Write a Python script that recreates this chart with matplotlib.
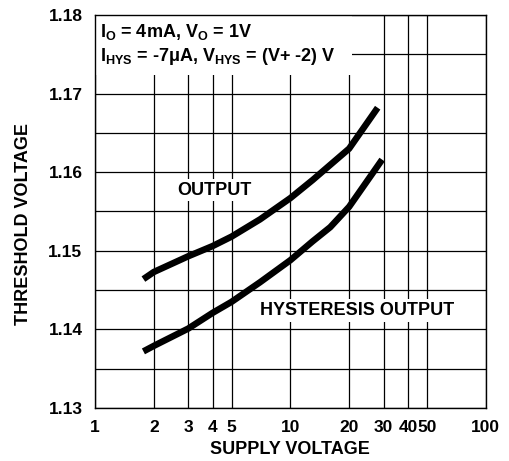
import matplotlib
matplotlib.use("Agg")
import matplotlib.pyplot as plt
from matplotlib.ticker import FixedLocator, FixedFormatter, NullLocator
from matplotlib.patches import Rectangle

plt.rcParams['font.family'] = ['Liberation Sans', 'DejaVu Sans']
plt.rcParams['font.weight'] = 'bold'
plt.rcParams['mathtext.fontset'] = 'custom'
plt.rcParams['mathtext.rm'] = 'Liberation Sans:bold'
plt.rcParams['mathtext.it'] = 'Liberation Sans:bold'
plt.rcParams['mathtext.bf'] = 'Liberation Sans:bold'

# Data
out_x = [1.77, 2, 3, 4, 5, 7, 10, 13, 20, 28]
out_y = [1.1464, 1.1473, 1.1493, 1.1506, 1.1518, 1.1540, 1.1567, 1.1590, 1.1630, 1.1682]
hys_x = [1.77, 2, 3, 4, 5, 7, 10, 13, 16, 20, 29.5]
hys_y = [1.1372, 1.1379, 1.1401, 1.1421, 1.1435, 1.1460, 1.1488, 1.1512, 1.1530, 1.1556, 1.1616]
x_ticks = [1, 2, 3, 4, 5, 10, 20, 30, 40, 50, 100]
x_tick_labels = ['1', '2', '3', '4', '5', '10', '20', '30', '40', '50', '100']
y_ticks = [1.13, 1.14, 1.15, 1.16, 1.17, 1.18]
y_tick_labels = ['1.13', '1.14', '1.15', '1.16', '1.17', '1.18']
y_grid = [1.13, 1.135, 1.14, 1.145, 1.15, 1.155, 1.16, 1.165, 1.17, 1.175, 1.18]

FS = 13

fig = plt.figure(figsize=(5.09, 4.61), dpi=100)
ax = fig.add_axes([0.1866, 0.115, 0.9542 - 0.1866, 0.9675 - 0.115])
ax.set_xscale('log')
ax.set_xlim(1, 100)
ax.set_ylim(1.13, 1.18)

for xv in x_ticks:
    ax.axvline(xv, color='black', lw=0.9, zorder=1)
for yv in y_grid:
    ax.axhline(yv, color='black', lw=0.9, zorder=1)

ax.plot(out_x, out_y, color='black', lw=4.7, solid_capstyle='butt', solid_joinstyle='round', zorder=3)
ax.plot(hys_x, hys_y, color='black', lw=4.7, solid_capstyle='butt', solid_joinstyle='round', zorder=3)

ax.xaxis.set_major_locator(FixedLocator(x_ticks))
ax.xaxis.set_major_formatter(FixedFormatter(x_tick_labels))
ax.xaxis.set_minor_locator(NullLocator())
ax.set_yticks(y_ticks)
ax.set_yticklabels(y_tick_labels)
ax.tick_params(axis='y', length=0, labelsize=FS - 0.5, pad=9)
ax.tick_params(axis='x', length=0, labelsize=FS - 0.5, pad=9)
for lab in ax.get_xticklabels() + ax.get_yticklabels():
    lab.set_fontweight('bold')
for s in ax.spines.values():
    s.set_linewidth(1.0)
    s.set_zorder(4)

ax.set_xlabel('SUPPLY VOLTAGE', fontsize=FS, fontweight='bold', labelpad=4)
ax.set_ylabel('THRESHOLD VOLTAGE', fontsize=FS, fontweight='bold')
ax.yaxis.set_label_coords(-0.162, 0.468)

# white box behind the condition text
ax.add_patch(Rectangle((0.003, 0.847), 0.655, 0.15, transform=ax.transAxes,
                       facecolor='white', edgecolor='none', zorder=2))
ax.text(0.013, 0.957, r'I$_{\mathregular{O}}$ = 4mA, V$_{\mathregular{O}}$ = 1V',
        transform=ax.transAxes, fontsize=FS, fontweight='bold', va='center', ha='left', zorder=5)
ax.text(0.013, 0.894, r'I$_{\mathregular{HYS}}$ = -7μA, V$_{\mathregular{HYS}}$ = (V+ -2) V',
        transform=ax.transAxes, fontsize=FS, fontweight='bold', va='center', ha='left', zorder=5)

ax.text(4.1, 1.1577, 'OUTPUT', fontsize=FS, fontweight='bold', ha='center', va='center',
        zorder=5, bbox=dict(facecolor='white', edgecolor='none', pad=2))
ax.text(22.0, 1.1424, 'HYSTERESIS OUTPUT', fontsize=FS, fontweight='bold', ha='center', va='center',
        zorder=5, bbox=dict(facecolor='white', edgecolor='none', pad=2))

fig.savefig('out.png', dpi=100)
